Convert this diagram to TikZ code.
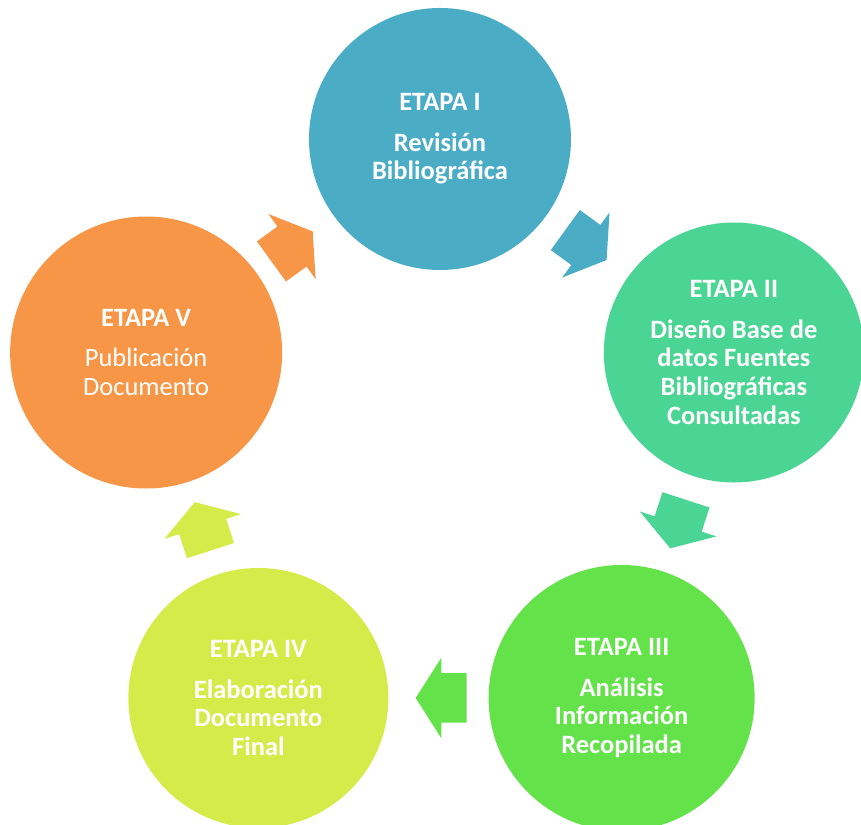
\documentclass[tikz,border=0pt]{standalone}
\usepackage{fontspec}
\setmainfont{Carlito}
\usetikzlibrary{shapes.arrows}

%Colours of the five stages
\definecolor{etapaI}{HTML}{4BACC6}
\definecolor{etapaII}{HTML}{4BD594}
\definecolor{etapaIII}{HTML}{63E24A}
\definecolor{etapaIV}{HTML}{D4EB4A}
\definecolor{etapaV}{HTML}{F79646}

\tikzset{
  etapa/.style={circle,fill=#1,draw=none,text=white,align=center,inner sep=0pt,font=\fontsize{22.6}{24.4}\selectfont\bfseries},
  flecha/.style={single arrow,fill=#1,draw=none,inner xsep=0pt,inner ysep=.735cm,minimum width=0pt,minimum height=1.53cm,
    single arrow head extend=.465cm,single arrow tip angle=115,pos=.475,sloped,allow upside down}
}

\begin{document}
\begin{tikzpicture}
\useasboundingbox (-13.2,-11.31) rectangle (12.63,13.44);

%%%Stages on a pentagon
\node[etapa=etapaI,minimum size=7.86cm] (s1) at (90:9.27) {ETAPA I\\[10pt]Revisión\\Bibliográfica};
\node[etapa=etapaII,minimum size=7.8cm] (s2) at (18:9.27) {ETAPA II\\[10pt]Diseño Base de\\datos Fuentes\\Bibliográficas\\Consultadas};
\node[etapa=etapaIII,minimum size=7.98cm] (s3) at (-54:9.27) {ETAPA III\\[10pt]Análisis\\Información\\Recopilada};
\node[etapa=etapaIV,minimum size=7.8cm] (s4) at (-126:9.27) {ETAPA IV\\[10pt]Elaboración\\Documento\\Final};
\node[etapa=etapaV,minimum size=8.16cm] (s5) at (162:9.27) {ETAPA V\\[10pt]{\mdseries Publicación}\\{\mdseries Documento}};

%%%Block arrows between stages
\foreach \a/\b/\c in {1/2/etapaI,2/3/etapaII,3/4/etapaIII,4/5/etapaIV,5/1/etapaV}
  \path (s\a.center) -- (s\b.center) node[flecha=\c] (f\a) {};

\end{tikzpicture}
\end{document}
